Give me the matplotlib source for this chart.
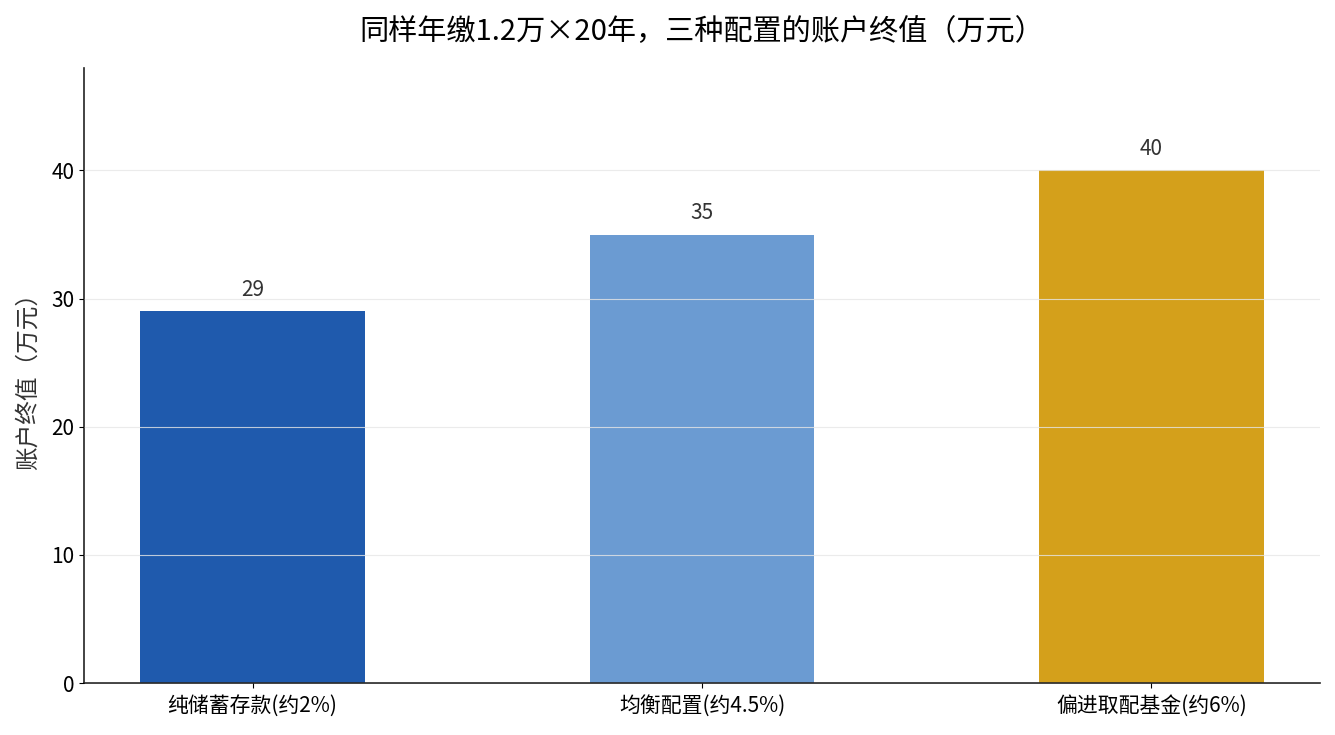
import matplotlib
matplotlib.use('Agg')
import matplotlib.pyplot as plt

plt.rcParams['font.family'] = ['Noto Sans CJK SC', 'DejaVu Sans']

categories = ['纯储蓄存款(约2%)', '均衡配置(约4.5%)', '偏进取配基金(约6%)']
values = [29, 35, 40]
colors = ['#1f5aad', '#6b9bd2', '#d4a01b']

fig = plt.figure(figsize=(13.35, 7.35), dpi=100)
ax = fig.add_axes([0.0629, 0.0707, 0.9259, 0.8368])

bars = ax.bar(range(len(categories)), values, width=0.5, color=colors, zorder=1)
for b, v in zip(bars, values):
    ax.text(b.get_x() + b.get_width() / 2, v + 0.8, str(v), ha='center', va='bottom',
            fontsize=15, color='#333333')

ax.set_xticks(range(len(categories)))
ax.set_xticklabels(categories, fontsize=15)
ax.tick_params(axis='x', pad=5)
ax.tick_params(axis='y', labelsize=15)
ax.set_ylim(0, 48)
ax.set_yticks([0, 10, 20, 30, 40])
ax.set_ylabel('账户终值（万元）', fontsize=17, color='#333333', labelpad=8)
ax.set_title('同样年缴1.2万×20年，三种配置的账户终值（万元）', fontsize=21, pad=20)

ax.grid(axis='y', color='#e6e6e6', linewidth=0.8, alpha=0.8, zorder=2)
ax.set_axisbelow(False)
for s in ['top', 'right']:
    ax.spines[s].set_visible(False)
for s in ['left', 'bottom']:
    ax.spines[s].set_linewidth(1.2)
    ax.spines[s].set_color('#222222')

fig.savefig('out.png', dpi=100)
